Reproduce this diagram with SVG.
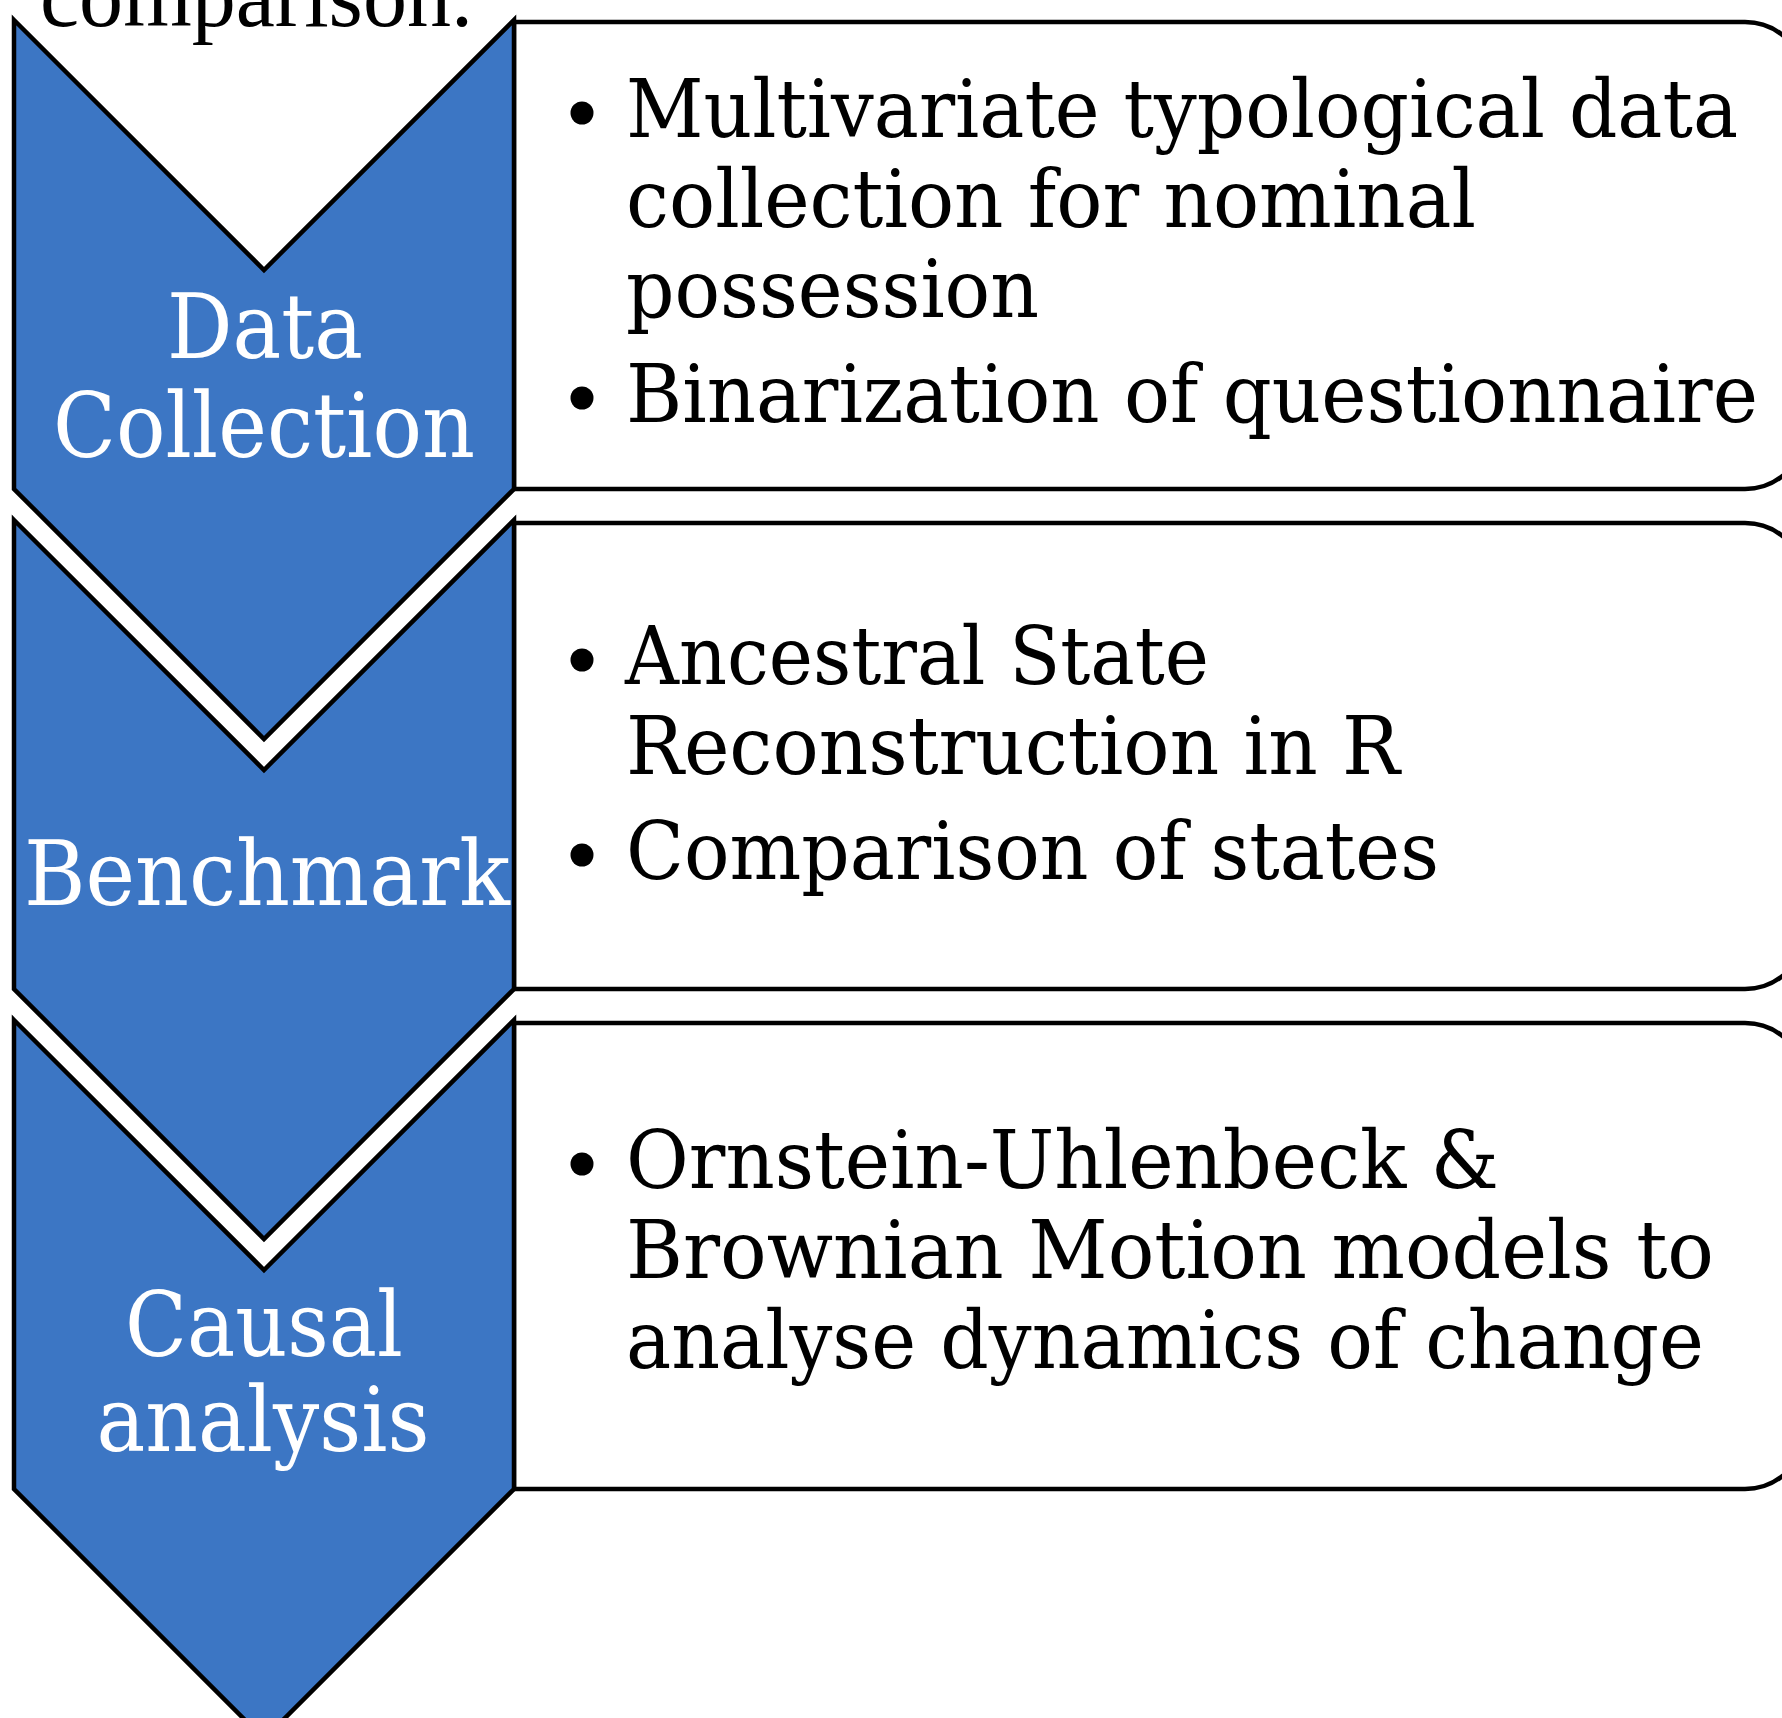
<svg xmlns="http://www.w3.org/2000/svg" width="1782" height="1718" viewBox="0 0 1782 1718">
<style>
.box{fill:#ffffff;stroke:#000000;stroke-width:4.5;stroke-linejoin:round}
.chev{fill:#3C76C4;stroke:#000000;stroke-width:4.5;stroke-linejoin:miter}
.lbl{font-family:"DejaVu Serif","Liberation Serif",serif;font-size:89px;fill:#ffffff;text-anchor:middle}
.txt{font-family:"DejaVu Serif","Liberation Serif",serif;font-size:81px;fill:#000000}
.cap{font-family:"Liberation Serif","DejaVu Serif",serif;font-size:88px;fill:#000000}
.bul{fill:#000000}
</style>
<rect x="0" y="0" width="1782" height="1718" fill="#ffffff"/>
<text class="cap" x="40" y="26" textLength="433" lengthAdjust="spacingAndGlyphs">comparison.</text>
<g id="connectors"></g>
<g id="box1">
<path class="box" d="M514,22 H1745 A60,60 0 0 1 1805,82 V429 A60,60 0 0 1 1745,489 H514 Z"/>
<circle class="bul" cx="582" cy="113" r="11.5"/>
<text class="txt" x="626" y="137" textLength="1112" lengthAdjust="spacingAndGlyphs">Multivariate typological data</text>
<text class="txt" x="626" y="227" textLength="850" lengthAdjust="spacingAndGlyphs">collection for nominal</text>
<text class="txt" x="626" y="317" textLength="413" lengthAdjust="spacingAndGlyphs">possession</text>
<circle class="bul" cx="582" cy="398" r="11.5"/>
<text class="txt" x="626" y="422" textLength="1132" lengthAdjust="spacingAndGlyphs">Binarization of questionnaire</text>
</g>
<g id="box2">
<path class="box" d="M514,523 H1745 A60,60 0 0 1 1805,583 V929 A60,60 0 0 1 1745,989 H514 Z"/>
<circle class="bul" cx="582" cy="660" r="11.5"/>
<text class="txt" x="625" y="684" textLength="584" lengthAdjust="spacingAndGlyphs">Ancestral State</text>
<text class="txt" x="626" y="774" textLength="774" lengthAdjust="spacingAndGlyphs">Reconstruction in R</text>
<circle class="bul" cx="582" cy="855" r="11.5"/>
<text class="txt" x="626" y="879" textLength="813" lengthAdjust="spacingAndGlyphs">Comparison of states</text>
</g>
<g id="box3">
<path class="box" d="M514,1023 H1745 A60,60 0 0 1 1805,1083 V1429 A60,60 0 0 1 1745,1489 H514 Z"/>
<circle class="bul" cx="582" cy="1164" r="11.5"/>
<text class="txt" x="626" y="1188" textLength="873" lengthAdjust="spacingAndGlyphs">Ornstein-Uhlenbeck &amp;</text>
<text class="txt" x="626" y="1278" textLength="1088" lengthAdjust="spacingAndGlyphs">Brownian Motion models to</text>
<text class="txt" x="626" y="1368" textLength="1078" lengthAdjust="spacingAndGlyphs">analyse dynamics of change</text>
</g>
<g id="chevron1">
<polygon class="chev" points="14,20 264,270 514,20 514,489 264,739 14,489"/>
<text class="lbl" x="265" y="358" textLength="196" lengthAdjust="spacingAndGlyphs">Data</text>
<text class="lbl" x="264" y="457" textLength="422" lengthAdjust="spacingAndGlyphs">Collection</text>
</g>
<g id="chevron2">
<polygon class="chev" points="14,520 264,770 514,520 514,989 264,1239 14,989"/>
<text class="lbl" x="267" y="905" textLength="486" lengthAdjust="spacingAndGlyphs">Benchmark</text>
</g>
<g id="chevron3">
<polygon class="chev" points="14,1020 264,1270 514,1020 514,1489 264,1739 14,1489"/>
<text class="lbl" x="264" y="1356" textLength="278" lengthAdjust="spacingAndGlyphs">Causal</text>
<text class="lbl" x="263" y="1451" textLength="333" lengthAdjust="spacingAndGlyphs">analysis</text>
</g>
</svg>
